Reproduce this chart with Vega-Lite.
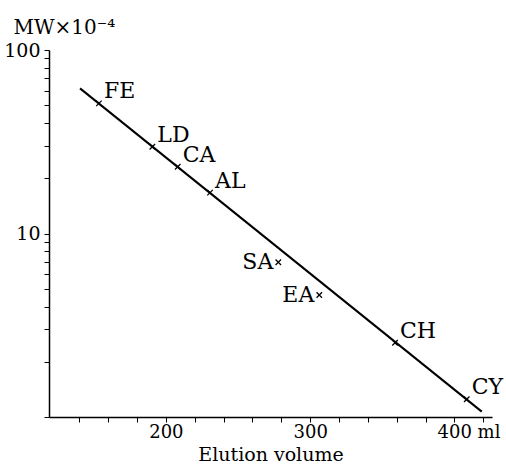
{
  "$schema": "https://vega.github.io/schema/vega-lite/v6.json",
  "width": 443,
  "height": 367,
  "autosize": {"type": "none"},
  "padding": {"left": 49, "top": 50, "right": 14, "bottom": 48},
  "background": "white",
  "config": {"view": {"stroke": null}, "font": "DejaVu Serif"},
  "datasets": {
    "proteins": [
      {"name": "FE", "volume": 153.6, "mw": 51.2},
      {"name": "LD", "volume": 190.6, "mw": 29.7},
      {"name": "CA", "volume": 208.2, "mw": 23.1},
      {"name": "AL", "volume": 230.6, "mw": 16.7},
      {"name": "SA", "volume": 277.9, "mw": 6.97},
      {"name": "EA", "volume": 306.3, "mw": 4.62},
      {"name": "CH", "volume": 358.8, "mw": 2.54},
      {"name": "CY", "volume": 408.5, "mw": 1.25}
    ],
    "fit": [
      {"volume": 140.5, "mw": 61.8},
      {"volume": 418.9, "mw": 1.07}
    ]
  },
  "encoding": {
    "x": {
      "field": "volume", "type": "quantitative",
      "scale": {"domain": [119, 426], "nice": false, "zero": false},
      "axis": {
        "title": "Elution volume",
        "titleFontSize": 19, "titleFontWeight": "normal", "titleColor": "black",
        "titleBaseline": "alphabetic", "titleY": 43,
        "values": [140, 160, 180, 200, 220, 240, 260, 280, 300, 320, 340, 360, 380, 400, 420],
        "labelExpr": "datum.value == 200 || datum.value == 300 ? datum.label : (datum.value == 400 ? '400 ml' : '')",
        "labelOffset": {"condition": {"test": "datum.value == 400", "value": 14}, "value": 0},
        "labelFontSize": 18, "labelColor": "black", "labelPadding": 1, "labelFlush": false, "labelOverlap": false,
        "tickSize": 5, "tickColor": "black", "tickWidth": 1,
        "domainColor": "black", "domainWidth": 1.5, "grid": false,
        "encode": {"ticks": {"update": {"y2": {"value": -5}}}}
      }
    },
    "y": {
      "field": "mw", "type": "quantitative",
      "scale": {"type": "log", "domain": [1, 100], "nice": false},
      "axis": {
        "title": "MW×10⁻⁴",
        "titleAngle": 0, "titleAlign": "left", "titleBaseline": "alphabetic",
        "titleX": -36, "titleY": -17,
        "titleFontSize": 20, "titleFontWeight": "normal", "titleColor": "black",
        "values": [1, 2, 3, 4, 5, 6, 7, 8, 9, 10, 20, 30, 40, 50, 60, 70, 80, 90, 100],
        "labelExpr": "datum.value == 10 || datum.value == 100 ? datum.value : ''",
        "labelFontSize": 19, "labelColor": "black", "labelPadding": 4, "labelFlush": false, "labelOverlap": false,
        "tickSize": 5, "tickColor": "black", "tickWidth": 1,
        "domainColor": "black", "domainWidth": 1.5, "grid": false,
        "encode": {"ticks": {"update": {"x2": {"value": 5}}}}
      }
    }
  },
  "layer": [
    {
      "data": {"name": "fit"},
      "mark": {"type": "line", "color": "black", "strokeWidth": 2}
    },
    {
      "data": {"name": "proteins"},
      "mark": {"type": "point", "shape": "M-1,-1L1,1M1,-1L-1,1", "filled": false, "color": "black", "strokeWidth": 1.3, "size": 30, "opacity": 1}
    },
    {
      "data": {"name": "proteins"},
      "transform": [{"filter": "datum.name != 'SA' && datum.name != 'EA'"}],
      "mark": {"type": "text", "align": "left", "baseline": "middle", "dx": 5, "dy": -12, "fontSize": 22, "color": "black"},
      "encoding": {"text": {"field": "name"}}
    },
    {
      "data": {"name": "proteins"},
      "transform": [{"filter": "datum.name == 'SA' || datum.name == 'EA'"}],
      "mark": {"type": "text", "align": "right", "baseline": "middle", "dx": -5, "dy": 0, "fontSize": 22, "color": "black"},
      "encoding": {"text": {"field": "name"}}
    }
  ]
}
